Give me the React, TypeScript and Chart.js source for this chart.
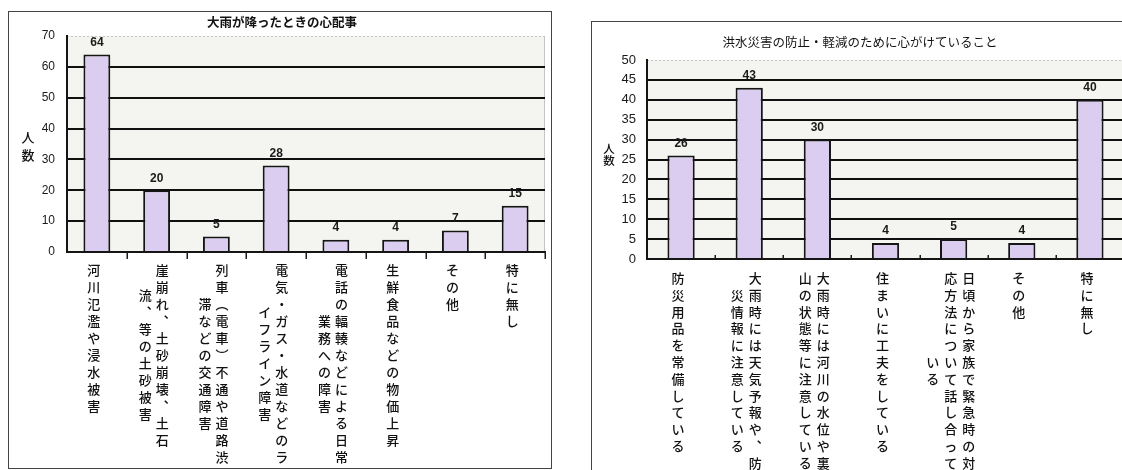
import React, { useEffect, useRef } from 'react';
import { Chart, registerables } from 'chart.js';
Chart.register(...registerables);

// ---------- data ----------
const yAxisLabel = '人数';

const leftTitle = '大雨が降ったときの心配事';
const leftCategories = [
  '河川氾濫や浸水被害',
  '崖崩れ、土砂崩壊、土石流、等の土砂被害',
  '列車（電車）不通や道路渋滞などの交通障害',
  '電気・ガス・水道などのライフライン障害',
  '電話の輻輳などによる日常業務への障害',
  '生鮮食品などの物価上昇',
  'その他',
  '特に無し',
];
// each label split into vertical columns (first = rightmost)
const leftLabelColumns = [
  ['河川氾濫や浸水被害'],
  ['崖崩れ、土砂崩壊、土石', '流、等の土砂被害'],
  ['列車（電車）不通や道路渋', '滞などの交通障害'],
  ['電気・ガス・水道などのラ', 'イフライン障害'],
  ['電話の輻輳などによる日常', '業務への障害'],
  ['生鮮食品などの物価上昇'],
  ['その他'],
  ['特に無し'],
];
const leftValues = [64, 20, 5, 28, 4, 4, 7, 15];
const leftYMin = 0;
const leftYMax = 70;
const leftYStep = 10;

const rightTitle = '洪水災害の防止・軽減のために心がけていること';
const rightCategories = [
  '防災用品を常備している',
  '大雨時には天気予報や、防災情報に注意している',
  '大雨時には河川の水位や裏山の状態等に注意している',
  '住まいに工夫をしている',
  '日頃から家族で緊急時の対応方法について話し合っている',
  'その他',
  '特に無し',
];
const rightLabelColumns = [
  ['防災用品を常備している'],
  ['大雨時には天気予報や、防', '災情報に注意している'],
  ['大雨時には河川の水位や裏', '山の状態等に注意している'],
  ['住まいに工夫をしている'],
  ['日頃から家族で緊急時の対', '応方法について話し合って', 'いる'],
  ['その他'],
  ['特に無し'],
];
const rightValues = [26, 43, 30, 4, 5, 4, 40];
const rightYMin = 0;
const rightYMax = 50;
const rightYStep = 5;

// ---------- helpers ----------
const vmap: Record<string, string> = { '、': '︑', '（': '︵', '）': '︶', 'ー': '︱' };
const CJK = '"Noto Sans CJK JP", "Noto Sans CJK SC", sans-serif';
const NUM = '"Liberation Sans", Arial, sans-serif';

type Cfg = {
  title: string;
  titleFont: string;
  titleX: number;
  titleY: number;
  yTitleX: number;
  yTitleY: number;
  yTitleStep: number;
  yTitleFont: string;
  labelFont: string;
  labelTop: number;
  labelStep: number;
  colGap: number;
  dx: number;
  tickDir: number; // 1 down, -1 up
  tickLen: number;
};

function makePlugin(cfg: Cfg) {
  return {
    id: 'decor',
    beforeDraw(chart: any) {
      const { ctx, chartArea: a } = chart;
      ctx.save();
      ctx.fillStyle = '#f4f4f0';
      ctx.fillRect(a.left, a.top, a.right - a.left, a.bottom - a.top);
      ctx.strokeStyle = '#c4c4c4';
      ctx.lineWidth = 1;
      ctx.setLineDash([2, 2]);
      ctx.beginPath();
      ctx.moveTo(a.left, a.top + 0.5);
      ctx.lineTo(a.right, a.top + 0.5);
      ctx.stroke();
      ctx.setLineDash([]);
      ctx.beginPath();
      ctx.moveTo(a.right - 0.5, a.top);
      ctx.lineTo(a.right - 0.5, a.bottom);
      ctx.stroke();
      ctx.restore();
    },
    afterDatasetsDraw(chart: any) {
      const { ctx } = chart;
      const meta = chart.getDatasetMeta(0);
      const data = chart.data.datasets[0].data;
      ctx.save();
      ctx.font = `bold 12px ${NUM}`;
      ctx.fillStyle = '#1a1a1a';
      ctx.textAlign = 'center';
      ctx.textBaseline = 'middle';
      meta.data.forEach((el: any, i: number) => {
        ctx.fillText(String(data[i]), el.x, el.y - 12);
      });
      ctx.restore();
    },
    afterDraw(chart: any) {
      const { ctx, chartArea: a } = chart;
      const xs = chart.scales.x;
      ctx.save();
      // title
      ctx.font = cfg.titleFont;
      ctx.fillStyle = '#111';
      ctx.textAlign = 'center';
      ctx.textBaseline = 'middle';
      ctx.fillText(cfg.title, cfg.titleX, cfg.titleY);
      // y title (vertical)
      ctx.font = cfg.yTitleFont;
      [...yAxisLabel].forEach((ch, k) => {
        ctx.fillText(ch, cfg.yTitleX, cfg.yTitleY + k * cfg.yTitleStep);
      });
      // x tick marks at category boundaries
      ctx.strokeStyle = '#1a1a1a';
      ctx.lineWidth = 1.5;
      const n = chart.data.labels.length;
      for (let i = 1; i <= n; i++) {
        if (cfg.tickDir < 0 && i === n) continue;
        const x = Math.round(xs.getPixelForValue(i - 0.5)) + 0.25;
        ctx.beginPath();
        ctx.moveTo(x, a.bottom);
        ctx.lineTo(x, a.bottom + cfg.tickDir * cfg.tickLen);
        ctx.stroke();
      }
      // vertical category labels
      ctx.font = cfg.labelFont;
      ctx.fillStyle = '#111';
      (chart.data.labels as string[][]).forEach((cols, i) => {
        const cx = xs.getPixelForTick(i) + cfg.dx;
        const nc = cols.length;
        const maxLen = Math.max(...cols.map((c) => [...c].length));
        cols.forEach((col, j) => {
          const x = cx + ((nc - 1) / 2 - j) * cfg.colGap;
          const chars = [...col];
          const off = (maxLen - chars.length) / 2;
          chars.forEach((ch, k) => {
            const y = a.bottom + cfg.labelTop + (off + k) * cfg.labelStep;
            ctx.fillText(vmap[ch] || ch, x, y);
          });
        });
      });
      ctx.restore();
    },
  };
}

function makeConfig(
  labels: string[][],
  values: number[],
  yMin: number,
  yMax: number,
  yStep: number,
  yWidth: number,
  xHeight: number,
  padTop: number,
  padRight: number,
  barPct: number,
  tickFont: number,
  tickPad: number,
  plugin: any
): any {
  return {
    type: 'bar',
    data: {
      labels,
      datasets: [
        {
          data: values,
          backgroundColor: '#dacdf0',
          borderColor: '#151515',
          borderWidth: 2,
          barPercentage: barPct,
          categoryPercentage: 1,
        },
      ],
    },
    options: {
      responsive: false,
      animation: false,
      devicePixelRatio: 1,
      layout: { padding: { left: 0, top: padTop, right: padRight, bottom: 0 } },
      plugins: { legend: { display: false }, tooltip: { enabled: false }, title: { display: false } },
      scales: {
        x: {
          type: 'category',
          offset: true,
          grid: { display: false },
          ticks: { display: false },
          border: { display: true, color: '#151515', width: 2 },
          afterFit: (s: any) => {
            s.height = xHeight;
          },
        },
        y: {
          min: yMin,
          max: yMax,
          ticks: {
            stepSize: yStep,
            color: '#1a1a1a',
            font: { family: NUM, size: tickFont },
            padding: tickPad,
          },
          grid: {
            drawTicks: false,
            color: (c: any) => (c.tick && c.tick.value === yMax ? 'rgba(0,0,0,0)' : '#101010'),
            lineWidth: 2,
          },
          border: { display: true, color: '#151515', width: 2 },
          afterFit: (s: any) => {
            s.width = yWidth;
          },
        },
      },
    },
    plugins: [plugin],
  };
}

function BarBox(props: { config: any; width: number; height: number }) {
  const ref = useRef<HTMLCanvasElement>(null);
  useEffect(() => {
    if (!ref.current) return;
    const chart = new Chart(ref.current, props.config);
    return () => chart.destroy();
  }, []);
  return (
    <canvas
      ref={ref}
      width={props.width}
      height={props.height}
      style={{ position: 'absolute', left: 0, top: 0, width: props.width, height: props.height }}
    />
  );
}

export default function App() {
  const leftPlugin = makePlugin({
    title: leftTitle,
    titleFont: `bold 12.5px ${CJK}`,
    titleX: 273,
    titleY: 10,
    yTitleX: 19,
    yTitleY: 125,
    yTitleStep: 18,
    yTitleFont: `500 13px ${CJK}`,
    labelFont: `500 13px ${CJK}`,
    labelTop: 18,
    labelStep: 17,
    colGap: 17,
    dx: -3,
    tickDir: 1,
    tickLen: 7,
  });
  const rightPlugin = makePlugin({
    title: rightTitle,
    titleFont: `12.5px ${CJK}`,
    titleX: 268,
    titleY: 20,
    yTitleX: 17,
    yTitleY: 127,
    yTitleStep: 12,
    yTitleFont: `500 11.5px ${CJK}`,
    labelFont: `500 13px ${CJK}`,
    labelTop: 19,
    labelStep: 16.8,
    colGap: 18,
    dx: -3,
    tickDir: -1,
    tickLen: 4,
  });
  const leftConfig = makeConfig(leftLabelColumns, leftValues, leftYMin, leftYMax, leftYStep, 58, 216, 24, 6, 0.45, 12, 12, leftPlugin);
  const rightConfig = makeConfig(rightLabelColumns, rightValues, rightYMin, rightYMax, rightYStep, 55, 211, 38, 8, 0.4, 13, 11, rightPlugin);
  void leftCategories;
  void rightCategories;

  return (
    <div style={{ position: 'fixed', left: 0, top: 0, width: 1122, height: 470, overflow: 'hidden', background: '#fff' }}>
      <div
        style={{
          position: 'absolute',
          left: 8,
          top: 11,
          width: 544,
          height: 458,
          border: '1px solid #444',
          boxSizing: 'border-box',
        }}
      >
        <BarBox config={leftConfig} width={542} height={456} />
      </div>
      <div
        style={{
          position: 'absolute',
          left: 591,
          top: 21,
          width: 600,
          height: 500,
          border: '1px solid #444',
          boxSizing: 'border-box',
        }}
      >
        <BarBox config={rightConfig} width={540} height={448} />
      </div>
    </div>
  );
}
